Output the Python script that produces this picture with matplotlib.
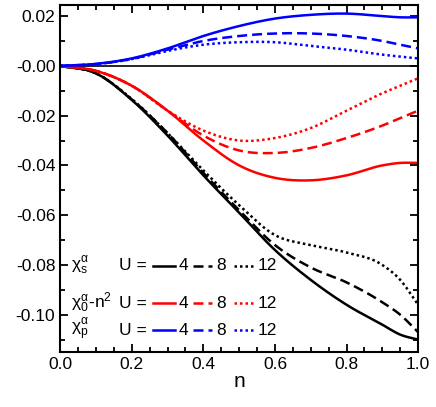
import numpy as np
import matplotlib
matplotlib.use("Agg")
import matplotlib.pyplot as plt
from matplotlib.ticker import MultipleLocator

plt.rcParams['font.family'] = ['Liberation Sans', 'DejaVu Sans']
plt.rcParams['mathtext.fontset'] = 'custom'
plt.rcParams['mathtext.rm'] = 'Liberation Sans'
plt.rcParams['mathtext.it'] = 'Liberation Sans'

n = [0.0, 0.1, 0.2, 0.3, 0.4, 0.5, 0.6, 0.7, 0.8, 0.9, 0.95, 1.0]
s4  = [0, -0.003, -0.0137, -0.028, -0.044, -0.059, -0.074, -0.086, -0.096, -0.104, -0.108, -0.110]
s8  = [0, -0.003, -0.0135, -0.027, -0.043, -0.058, -0.072, -0.081, -0.087, -0.095, -0.100, -0.107]
s12 = [0, -0.003, -0.0133, -0.027, -0.042, -0.056, -0.068, -0.072, -0.075, -0.080, -0.086, -0.096]
c4  = [0, -0.002, -0.008, -0.018, -0.030, -0.040, -0.045, -0.046, -0.044, -0.040, -0.039, -0.039]
c8  = [0, -0.002, -0.008, -0.018, -0.028, -0.034, -0.035, -0.033, -0.029, -0.024, -0.021, -0.018]
c12 = [0, -0.002, -0.008, -0.018, -0.026, -0.030, -0.029, -0.025, -0.018, -0.011, -0.008, -0.005]
p4  = [0, 0.0008, 0.003, 0.007, 0.012, 0.016, 0.019, 0.0205, 0.021, 0.020, 0.0195, 0.0195]
p8  = [0, 0.0007, 0.0028, 0.0065, 0.010, 0.012, 0.013, 0.013, 0.012, 0.010, 0.0085, 0.007]
p12 = [0, 0.0007, 0.0027, 0.006, 0.0085, 0.0095, 0.0095, 0.008, 0.0065, 0.0045, 0.0037, 0.003]


def smooth(x, y, num=300):
    # cubic Hermite (Catmull-Rom style slopes) for drawing smooth curves
    x = np.asarray(x, float); y = np.asarray(y, float)
    m = np.gradient(y, x)
    xs = np.linspace(x[0], x[-1], num)
    idx = np.clip(np.searchsorted(x, xs) - 1, 0, len(x) - 2)
    h = x[idx + 1] - x[idx]
    t = (xs - x[idx]) / h
    h00 = 2*t**3 - 3*t**2 + 1; h10 = t**3 - 2*t**2 + t
    h01 = -2*t**3 + 3*t**2; h11 = t**3 - t**2
    ys = h00*y[idx] + h10*h*m[idx] + h01*y[idx+1] + h11*h*m[idx+1]
    return xs, ys


fig = plt.figure(figsize=(4.36, 4.07), dpi=100)
ax = fig.add_axes([0.138, 0.135, 0.821, 0.853])

ax.axhline(0, color='black', lw=1.2)
styles = ['-', (0, (4, 2)), (0, (1, 1.2))]
for color, series in [('black', [s4, s8, s12]), ('red', [c4, c8, c12]), ('blue', [p4, p8, p12])]:
    for ls, y in zip(styles, series):
        xs, ys = smooth(n, y)
        ax.plot(xs, ys, color=color, ls=ls, lw=1.8)

ax.set_xlim(0, 1)
ax.set_ylim(-0.115, 0.0245)
ax.xaxis.set_major_locator(MultipleLocator(0.2))
ax.xaxis.set_minor_locator(MultipleLocator(0.05))
ax.yaxis.set_major_locator(MultipleLocator(0.02))
ax.yaxis.set_minor_locator(MultipleLocator(0.01))
ax.xaxis.set_major_formatter(lambda v, p: f"{v:.1f}")
ax.yaxis.set_major_formatter(lambda v, p: f"{v:.2f}")
ax.tick_params(which='both', direction='in', top=True, right=True, labelsize=12.5, width=1.3)
ax.tick_params(which='major', length=6)
ax.tick_params(which='minor', length=3.5)
for sp in ax.spines.values():
    sp.set_linewidth(1.5)
ax.set_xlabel('n', fontsize=15, labelpad=0)

rows = [(0.248, 'black', r'$\chi_{\rm s}^{\alpha}$'),
        (0.141, 'red', r'$\chi_{\rm 0}^{\alpha}$-n$^2$'),
        (0.063, 'blue', r'$\chi_{\rm p}^{\alpha}$')]
for yy, color, lab in rows:
    ax.text(0.03, yy, lab, transform=ax.transAxes, fontsize=12.5, va='center')
    ax.text(0.165, yy, 'U =', transform=ax.transAxes, fontsize=12.5, va='center')
    for (x0, x1), ls, num in zip([(0.26, 0.32), (0.37, 0.425), (0.485, 0.54)], styles,
                                 ['4', '8', '12']):
        ax.plot([x0, x1], [yy, yy], transform=ax.transAxes, color=color, ls=ls, lw=1.8)
        ax.text(x1 + 0.012, yy, num, transform=ax.transAxes, fontsize=12.5, va='center')

fig.savefig('out.png', dpi=100)
